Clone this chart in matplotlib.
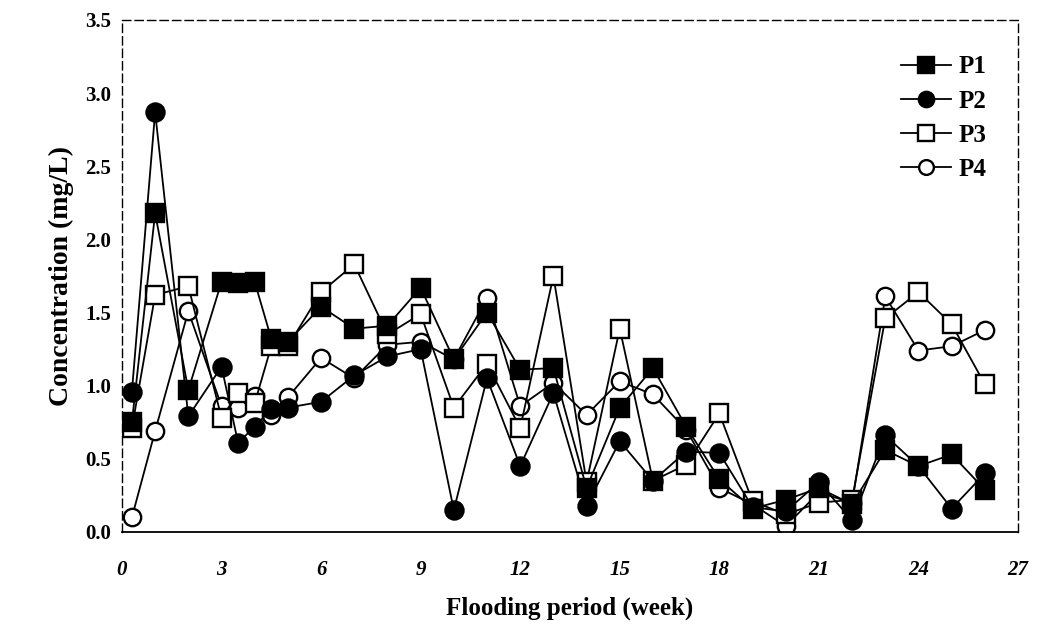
import matplotlib
matplotlib.use("Agg")
import matplotlib.pyplot as plt

# weeks of sampling (first sample at ~0.3 week, extra half-week samples at 3.5 and 4.5)
weeks = [0.3, 1, 2, 3, 3.5, 4, 4.5, 5, 6, 7, 8, 9, 10, 11, 12, 13, 14, 15,
         16, 17, 18, 19, 20, 21, 22, 23, 24, 25, 26]

p1 = [0.75, 2.18, 0.97, 1.71, 1.70, 1.71, 1.32, 1.30, 1.54, 1.39, 1.41, 1.67,
      1.18, 1.50, 1.11, 1.12, 0.30, 0.85, 1.12, 0.72, 0.36, 0.16, 0.22, 0.30,
      0.19, 0.56, 0.45, 0.53, 0.29]
p2 = [0.96, 2.87, 0.79, 1.13, 0.61, 0.72, 0.84, 0.85, 0.89, 1.07, 1.20, 1.25,
      0.15, 1.05, 0.45, 0.95, 0.18, 0.62, 0.35, 0.55, 0.54, 0.17, 0.14, 0.34,
      0.08, 0.66, 0.45, 0.16, 0.40]
p3 = [0.71, 1.62, 1.68, 0.78, 0.95, 0.88, 1.27, 1.27, 1.64, 1.83, 1.35, 1.49,
      0.85, 1.15, 0.71, 1.75, 0.34, 1.39, 0.35, 0.46, 0.81, 0.21, 0.12, 0.20,
      0.22, 1.46, 1.64, 1.42, 1.01]
p4 = [0.10, 0.69, 1.51, 0.86, 0.85, 0.93, 0.80, 0.92, 1.19, 1.05, 1.28, 1.30,
      1.18, 1.60, 0.86, 1.02, 0.80, 1.03, 0.94, 0.70, 0.30, 0.19, 0.04, 0.27,
      0.20, 1.61, 1.24, 1.27, 1.38]

x_ticks = [0, 3, 6, 9, 12, 15, 18, 21, 24, 27]
y_ticks = [0.0, 0.5, 1.0, 1.5, 2.0, 2.5, 3.0, 3.5]

serif = ["Liberation Serif", "DejaVu Serif"]
plt.rcParams["font.family"] = serif

fig = plt.figure(figsize=(10.37, 6.28), dpi=100)
ax = fig.add_axes([0.1176, 0.1529, 0.8641, 0.8153])

common = dict(color="black", lw=1.3, mew=1.7)
ax.plot(weeks, p4, marker="o", ms=12.5, mfc="white", label="P4", zorder=2, **common)
ax.plot(weeks, p3, marker="s", ms=13, mfc="white", label="P3", zorder=3, **common)
ax.plot(weeks, p2, marker="o", ms=13, mfc="black", label="P2", zorder=4, **common)
ax.plot(weeks, p1, marker="s", ms=13, mfc="black", label="P1", zorder=5, **common)

ax.set_xlim(0, 27)
ax.set_ylim(0, 3.5)
ax.set_xticks(x_ticks)
ax.set_yticks(y_ticks)
ax.set_xticklabels([str(t) for t in x_ticks], fontweight="bold", fontstyle="italic", fontsize=15)
ax.set_yticklabels([f"{t:.1f}" for t in y_ticks], fontweight="bold", fontsize=15)
ax.tick_params(length=0)
ax.tick_params(axis="x", pad=20)
ax.tick_params(axis="y", pad=8)

for side in ["top", "right", "left"]:
    ax.spines[side].set_linestyle((0, (6, 3)))
    ax.spines[side].set_linewidth(1.0)
ax.spines["bottom"].set_linewidth(1.3)

ax.set_xlabel("Flooding period (week)", fontweight="bold", fontsize=18, labelpad=12)
ax.set_ylabel("Concentration (mg/L)", fontweight="bold", fontsize=20, labelpad=8)

handles, labels = ax.get_legend_handles_labels()
order = [3, 2, 1, 0]
leg = ax.legend([handles[i] for i in order], [labels[i] for i in order],
                loc="upper right", bbox_to_anchor=(0.99, 0.975), frameon=False,
                prop={"family": serif, "weight": "bold", "size": 18},
                handlelength=2.0, labelspacing=0.45, handletextpad=0.3,
                markerscale=0.85)

plt.savefig("out.png", dpi=100)
plt.close()
